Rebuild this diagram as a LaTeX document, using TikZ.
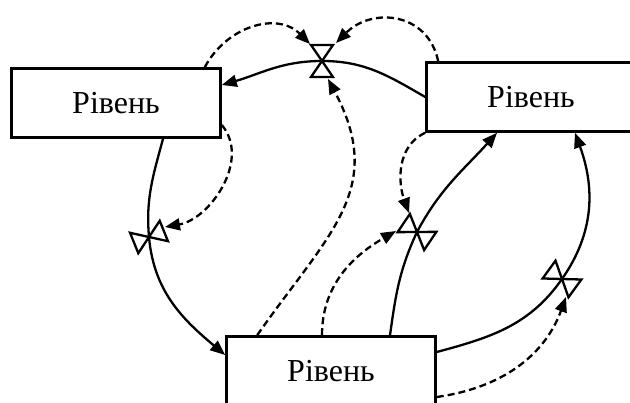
\documentclass[tikz,border=0pt]{standalone}
\usepackage{fontspec}
\setmainfont{Liberation Serif}
\usetikzlibrary{arrows.meta}
\tikzset{
  levelbox/.style={draw, line width=2.6pt, minimum width=209pt, minimum height=69pt, inner sep=0pt, font=\fontsize{32}{38}\selectfont},
  flow/.style={line width=2.3pt, -{Triangle[length=15pt,width=12pt]}},
  info/.style={flow, dash pattern=on 7pt off 4pt},
  valve/.pic={\draw[line width=2.3pt, line join=miter] (0,0) -- (-16,11) -- (-16,-11) -- cycle (0,0) -- (16,11) -- (16,-11) -- cycle;}
}
\begin{document}
\begin{tikzpicture}[x=1pt,y=1pt]
\useasboundingbox (0,0) rectangle (630,403);
\clip (0,0) rectangle (630,403);
%\draw[step=10pt,gray,very thin] (0,0) grid (630,403); %background grid
\node[levelbox] (left) at (116,300) {Рівень};
\node[levelbox] (right) at (531,306) {Рівень};
\node[levelbox] (bottom) at (331,32) {Рівень};
\coordinate (vtop) at (322,342);
\coordinate (vleft) at (149,166);
\coordinate (vmid) at (417,171);
\coordinate (vright) at (562,124);
\pic[rotate=90] at (vtop) {valve};
\pic[rotate=22] at (vleft) {valve};
\pic[rotate=-34] at (vmid) {valve};
\pic[rotate=-36] at (vright) {valve};
% flows
\draw[flow] (right.west) to[out=150,in=0] (vtop) to[out=180,in=16] ([yshift=18pt]left.east);
\draw[flow] ([xshift=47pt]left.south) to[out=-105,in=95] (vleft) to[out=-85,in=140] ([yshift=16pt]bottom.west);
\draw[flow] ([xshift=59pt]bottom.north) to[out=82,in=-115] (vmid) to[out=62,in=-132] ([xshift=-34pt]right.south);
\draw[flow] ([yshift=19pt]bottom.east) to[out=15,in=-125] (vright) to[out=55,in=-70] ([xshift=44pt]right.south);
% information links
\draw[info] ([xshift=-17pt]left.north east) to[out=62,in=135,looseness=1.1] ([shift={(-12,17)}]vtop);
\draw[info] ([xshift=13pt]right.north west) to[out=102,in=45,looseness=1.25] ([shift={(14,18)}]vtop);
\draw[info] ([xshift=32pt]bottom.north west) to[out=55,in=-62,looseness=1.2] ([shift={(6,-18)}]vtop);
\draw[info] ([yshift=-22pt]left.east) to[out=-50,in=10] ([shift={(16,10)}]vleft);
\draw[info] (right.south west) to[out=205,in=110] ([shift={(-8,19)}]vmid);
\draw[info] ([xshift=-9pt]bottom.north) to[out=90,in=-150] ([shift={(-21,1)}]vmid);
\draw[info] ([yshift=-26pt]bottom.east) to[out=8,in=-110] ([shift={(4,-18)}]vright);
\end{tikzpicture}
\end{document}
